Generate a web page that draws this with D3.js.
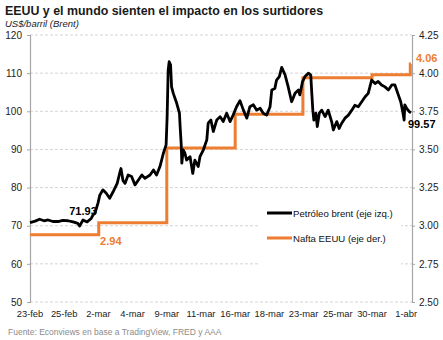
<!DOCTYPE html>
<html>
<head>
<meta charset="utf-8">
<script src="https://cdn.jsdelivr.net/npm/d3@7"></script>
<style>
  body { margin: 0; background: #fff; }
  svg { font-family: "Liberation Sans", Arial, sans-serif; }
</style>
</head>
<body>
<div id="chart"></div>
<script>
// x positions are in "label slots": 0 = 23-feb ... 11 = 1-abr
const tickLabels = ["23-feb", "25-feb", "2-mar", "4-mar", "9-mar", "11-mar",
    "16-mar", "18-mar", "23-mar", "25-mar", "30-mar", "1-abr"];

const leftTicks = [50, 60, 70, 80, 90, 100, 110, 120];
const rightTicks = [2.50, 2.75, 3.00, 3.25, 3.50, 3.75, 4.00, 4.25];

// Brent, US$/barril (left axis)
const brentPos = [0.00, 0.15, 0.28, 0.41, 0.53, 0.67, 0.82, 0.96, 1.11, 1.26,
    1.40, 1.45, 1.55, 1.67, 1.79, 1.84, 1.90, 1.99, 2.04, 2.13,
    2.23, 2.33, 2.43, 2.55, 2.62, 2.66, 2.72, 2.78, 2.87, 2.97,
    3.07, 3.17, 3.27, 3.36, 3.51, 3.61, 3.70, 3.80, 3.90, 3.98,
    4.01, 4.04, 4.07, 4.11, 4.14, 4.19, 4.29, 4.37, 4.39, 4.42,
    4.44, 4.48, 4.53, 4.58, 4.68, 4.76, 4.82, 4.92, 4.97, 5.07,
    5.17, 5.21, 5.29, 5.36, 5.46, 5.56, 5.65, 5.75, 5.85, 5.94,
    6.04, 6.14, 6.24, 6.34, 6.43, 6.53, 6.63, 6.73, 6.82, 6.92,
    7.02, 7.07, 7.16, 7.21, 7.29, 7.36, 7.46, 7.55, 7.65, 7.75,
    7.85, 7.89, 7.97, 8.04, 8.14, 8.21, 8.24, 8.27, 8.30, 8.36,
    8.40, 8.46, 8.53, 8.63, 8.72, 8.82, 8.87, 8.97, 9.04, 9.11,
    9.21, 9.31, 9.41, 9.50, 9.60, 9.70, 9.80, 9.89, 9.99, 10.09,
    10.18, 10.28, 10.38, 10.48, 10.58, 10.67, 10.77, 10.84, 10.90, 10.94,
    10.96, 11.01, 11.09, 11.14];
const brentVal = [70.8, 71.2, 71.7, 71.3, 71.5, 71.1, 71.1, 71.4, 71.3, 71.0,
    70.6, 69.9, 71.5, 71.0, 71.9, 72.8, 73.3, 76.0, 78.0, 79.4,
    78.5, 77.2, 78.9, 81.1, 83.7, 85.0, 81.8, 81.1, 83.3, 82.9,
    80.7, 82.0, 83.3, 82.4, 83.3, 84.6, 83.3, 85.5, 89.0, 91.2,
    98.6, 110.8, 113.0, 112.2, 106.4, 104.7, 102.1, 99.5, 96.0, 91.6,
    86.4, 89.9, 89.0, 87.2, 88.1, 83.7, 87.2, 85.5, 88.1, 89.9,
    92.5, 96.9, 97.7, 94.7, 97.7, 98.6, 97.3, 99.5, 97.3, 99.0,
    101.2, 102.8, 100.3, 98.2, 101.2, 101.7, 100.3, 100.8, 99.5, 99.0,
    101.2, 105.6, 106.0, 108.2, 109.1, 111.5, 109.5, 106.4, 102.5, 104.7,
    105.6, 104.3, 107.8, 109.1, 110.0, 109.5, 104.7, 100.3, 97.7, 99.5,
    96.0, 99.5, 100.3, 98.6, 100.3, 97.3, 95.1, 97.3, 95.5, 96.8,
    98.2, 99.0, 100.3, 101.6, 101.2, 102.5, 103.8, 104.7, 108.2, 107.3,
    107.8, 106.9, 106.4, 105.6, 106.9, 106.9, 104.3, 102.5, 99.9, 97.7,
    101.7, 100.8, 99.9, 99.57];

// Nafta EEUU, US$/galón (right axis), weekly steps
const naftaPos = [0, 2.01, 4.0, 6.0, 7.98, 10.0, 11.12, 11.14];
const naftaVal = [2.94, 3.02, 3.51, 3.73, 3.97, 3.99, 4.06, 4.06];

const brent = brentPos.map((p, i) => ({pos: p, val: brentVal[i]}));
const nafta = naftaPos.map((p, i) => ({pos: p, val: naftaVal[i]}));

const width = 443, height = 340;
const margin = {top: 35, right: 31, bottom: 38, left: 30};

const svg = d3.select("#chart").append("svg")
    .attr("width", width)
    .attr("height", height);

const x = d3.scaleLinear()
    .domain([0, 11.17])
    .range([margin.left, width - margin.right]);

const yL = d3.scaleLinear()
    .domain([50, 120])
    .range([height - margin.bottom, margin.top]);

const yR = d3.scaleLinear()
    .domain([2.5, 4.25])
    .range([height - margin.bottom, margin.top]);

// title
svg.append("text")
    .attr("x", 5).attr("y", 15)
    .attr("font-size", 12.4).attr("font-weight", "bold")
    .attr("fill", "#1a1a1a")
    .text("EEUU y el mundo sienten el impacto en los surtidores");

svg.append("text")
    .attr("x", 5).attr("y", 27)
    .attr("font-size", 9.5).attr("font-style", "italic")
    .attr("fill", "#222")
    .text("US$/barril (Brent)");

// gridlines
svg.append("g")
    .selectAll("line")
    .data(leftTicks)
    .join("line")
    .attr("x1", x(0)).attr("x2", x(11.17))
    .attr("y1", d => yL(d)).attr("y2", d => yL(d))
    .attr("stroke", "#d4d4d4")
    .attr("stroke-dasharray", "3,2");

// left axis
const leftAxis = svg.append("g")
    .attr("transform", "translate(" + margin.left + ",0)")
    .call(d3.axisLeft(yL).tickValues(leftTicks).tickSize(3).tickPadding(5));

// right axis
const rightAxis = svg.append("g")
    .attr("transform", "translate(" + (width - margin.right) + ",0)")
    .call(d3.axisRight(yR).tickValues(rightTicks).tickSize(3).tickPadding(4)
        .tickFormat(d3.format(".2f")));

[leftAxis, rightAxis].forEach(g => {
    g.select(".domain").attr("stroke", "#a6a6a6").attr("stroke-width", 1.2);
    g.selectAll(".tick line").attr("stroke", "#a6a6a6");
    g.selectAll(".tick text").attr("font-size", 10).attr("fill", "#222")
        .attr("font-family", "Liberation Sans, Arial, sans-serif");
});

// x labels
svg.append("g")
    .selectAll("text")
    .data(tickLabels)
    .join("text")
    .attr("x", (d, i) => x(i))
    .attr("y", 317)
    .attr("text-anchor", "middle")
    .attr("font-size", 9.4)
    .attr("fill", "#222")
    .text(d => d);

// legend box (hides gridlines behind it)
svg.append("rect")
    .attr("x", 258).attr("y", 198)
    .attr("width", 143).attr("height", 70)
    .attr("fill", "#fff");

// series
const naftaLine = d3.line()
    .curve(d3.curveStepAfter)
    .x(d => x(d.pos))
    .y(d => yR(d.val));

const brentLine = d3.line()
    .x(d => x(d.pos))
    .y(d => yL(d.val));

svg.append("path")
    .datum(nafta)
    .attr("fill", "none")
    .attr("stroke", "#ed7d31")
    .attr("stroke-width", 3)
    .attr("d", naftaLine);

svg.append("path")
    .datum(brent)
    .attr("fill", "none")
    .attr("stroke", "#000")
    .attr("stroke-width", 2.8)
    .attr("stroke-linejoin", "round")
    .attr("d", brentLine);

// legend
const legend = svg.append("g");
const legendItems = [
    {label: "Petróleo brent (eje izq.)", color: "#000", y: 213},
    {label: "Nafta EEUU (eje der.)", color: "#ed7d31", y: 238}
];
legend.selectAll("line")
    .data(legendItems)
    .join("line")
    .attr("x1", 267).attr("x2", 292)
    .attr("y1", d => d.y).attr("y2", d => d.y)
    .attr("stroke", d => d.color)
    .attr("stroke-width", 3);
legend.selectAll("text")
    .data(legendItems)
    .join("text")
    .attr("x", 293).attr("y", d => d.y + 4)
    .attr("font-size", 9.6)
    .attr("fill", "#111")
    .text(d => d.label);

// value labels
svg.append("text")
    .attr("x", x(1.55)).attr("y", 215)
    .attr("text-anchor", "middle")
    .attr("font-size", 11).attr("font-weight", "bold")
    .text("71.93");

svg.append("text")
    .attr("x", x(2.05)).attr("y", 245)
    .attr("font-size", 11).attr("font-weight", "bold")
    .attr("fill", "#ed7d31")
    .text(naftaVal[0].toFixed(2));

svg.append("text")
    .attr("x", 416).attr("y", 62)
    .attr("font-size", 11).attr("font-weight", "bold")
    .attr("fill", "#ed7d31")
    .text(naftaVal[naftaVal.length - 1].toFixed(2));

svg.append("text")
    .attr("x", 408).attr("y", 128)
    .attr("font-size", 11).attr("font-weight", "bold")
    .text(brentVal[brentVal.length - 1].toFixed(2));

// source
svg.append("text")
    .attr("x", 8).attr("y", 335)
    .attr("font-size", 8.5)
    .attr("fill", "#8c8c8c")
    .text("Fuente: Econviews en base a TradingView, FRED y AAA");
</script>
</body>
</html>
